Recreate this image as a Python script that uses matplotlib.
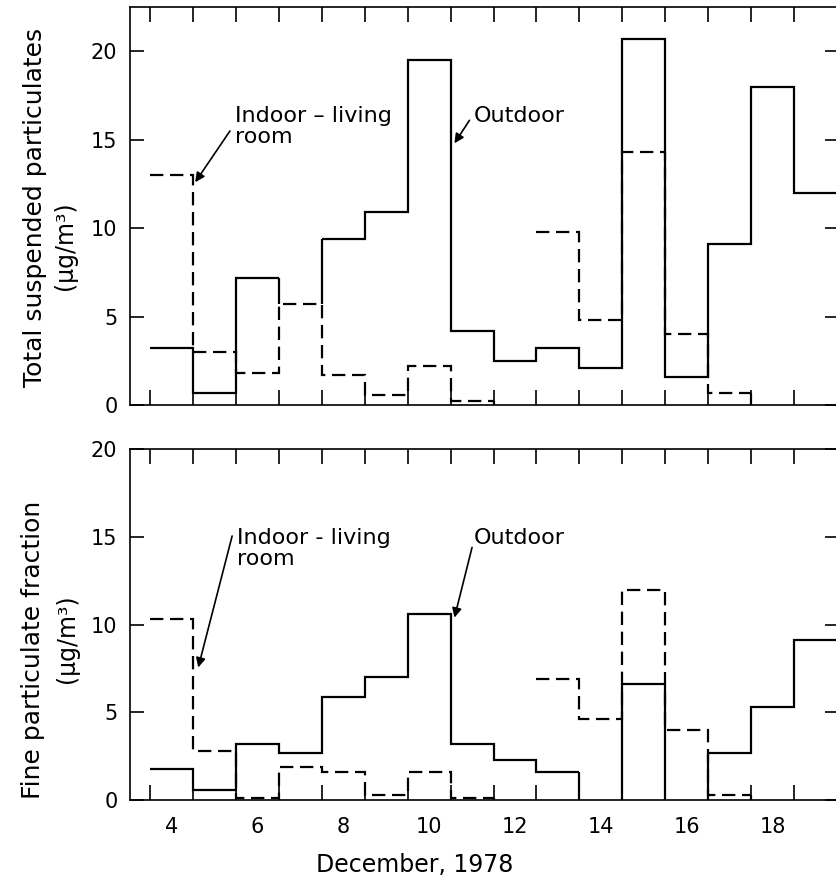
import numpy as np
import matplotlib
matplotlib.use("Agg")
import matplotlib.pyplot as plt

nan = np.nan

# days of December 1978, one bin per day
days = np.arange(4, 20)
edges = np.arange(3.5, 20.5, 1)

tsp_outdoor = [3.2, 0.7, 7.2, nan, 9.4, 10.9, 19.5, 4.2, 2.5, 3.2, 2.1, 20.7, 1.6, 9.1, 18.0, 12.0]
tsp_indoor = [13.0, 3.0, 1.8, 5.7, 1.7, 0.55, 2.2, 0.2, nan, 9.8, 4.8, 14.3, 4.0, 0.7, nan, nan]
fine_outdoor = [1.8, 0.6, 3.2, 2.7, 5.85, 7.0, 10.6, 3.2, 2.3, 1.6, nan, 6.6, nan, 2.7, 5.3, 9.1]
fine_indoor = [10.3, 2.8, 0.1, 1.9, 1.6, 0.3, 1.6, 0.1, nan, 6.9, 4.65, 12.0, 4.0, 0.3, nan, nan]

xtick_labels = [4, 6, 8, 10, 12, 14, 16, 18]
yticks = [0, 5, 10, 15, 20]

DASH = (0, (6, 3))
LW = 1.6

plt.rcParams['font.family'] = ['DejaVu Sans']


def gap_drops(ax, values, floor, both_sides, ls):
    # vertical strokes where a run of data meets a missing day
    v = np.asarray(values, float)
    for i in range(len(v)):
        if np.isnan(v[i]):
            continue
        if i + 1 < len(v) and np.isnan(v[i + 1]):
            ax.vlines(edges[i + 1], floor[i + 1], v[i], colors='black', lw=LW, linestyles=ls)
        if both_sides and i > 0 and np.isnan(v[i - 1]):
            ax.vlines(edges[i], floor[i - 1], v[i], colors='black', lw=LW, linestyles=ls)


def draw_panel(ax, outdoor, indoor, outdoor_floor, ytop, show_xlabels):
    ax.stairs(indoor, edges, baseline=None, color='black', lw=LW, linestyle=DASH)
    gap_drops(ax, indoor, np.zeros(len(days)), False, DASH)
    ax.stairs(outdoor, edges, baseline=None, color='black', lw=LW)
    gap_drops(ax, outdoor, outdoor_floor, True, 'solid')

    ax.set_xlim(3.03, 19.55)
    ax.set_ylim(0, ytop)
    ax.set_yticks(yticks)
    ax.tick_params(axis='y', direction='in', left=True, right=True, length=10,
                   width=1.2, labelsize=15, pad=9)
    ax.set_xticks(edges[:-1])
    ax.tick_params(axis='x', which='major', direction='in', top=True, bottom=True,
                   length=11, width=1.2, labelbottom=False)
    ax.set_xticks(xtick_labels, minor=True)
    ax.set_xticklabels([str(d) for d in xtick_labels], minor=True)
    ax.tick_params(axis='x', which='minor', length=0, labelsize=15, pad=12,
                   labelbottom=show_xlabels)
    for s in ax.spines.values():
        s.set_linewidth(1.2)


fig = plt.figure(figsize=(8.37, 8.94), dpi=100)
ax1 = fig.add_axes([0.1553, 0.547, 0.8471, 0.445])
ax2 = fig.add_axes([0.1553, 0.105, 0.8471, 0.3926])

draw_panel(ax1, tsp_outdoor, tsp_indoor, np.nan_to_num(tsp_indoor), 22.5, False)
draw_panel(ax2, fine_outdoor, fine_indoor, np.zeros(len(days)), 20, True)

arrow = dict(arrowstyle='-|>', color='black', lw=1.2, mutation_scale=14, shrinkA=0, shrinkB=0)

ax1.annotate('', xy=(4.55, 12.6), xytext=(5.36, 15.5), arrowprops=arrow)
ax1.text(5.48, 16.9, 'Indoor – living\nroom', fontsize=16, va='top', ha='left', linespacing=1.05)
ax1.annotate('', xy=(10.59, 14.8), xytext=(10.94, 16.1), arrowprops=arrow)
ax1.text(11.05, 16.9, 'Outdoor', fontsize=16, va='top', ha='left')

ax2.annotate('', xy=(4.62, 7.56), xytext=(5.41, 15.05), arrowprops=arrow)
ax2.text(5.52, 15.5, 'Indoor - living\nroom', fontsize=16, va='top', ha='left', linespacing=1.05)
ax2.annotate('', xy=(10.59, 10.4), xytext=(11.0, 14.4), arrowprops=arrow)
ax2.text(11.05, 15.5, 'Outdoor', fontsize=16, va='top', ha='left')

fig.text(0.042, 0.768, 'Total suspended particulates', rotation=90, fontsize=18,
         ha='center', va='center')
fig.text(0.078, 0.725, '(µg/m³)', rotation=90, fontsize=17, ha='center', va='center')
fig.text(0.040, 0.273, 'Fine particulate fraction', rotation=90, fontsize=18,
         ha='center', va='center')
fig.text(0.080, 0.286, '(µg/m³)', rotation=90, fontsize=17, ha='center', va='center')
fig.text(0.496, 0.032, 'December, 1978', fontsize=17, ha='center', va='center')

fig.savefig('out.png', dpi=100)
